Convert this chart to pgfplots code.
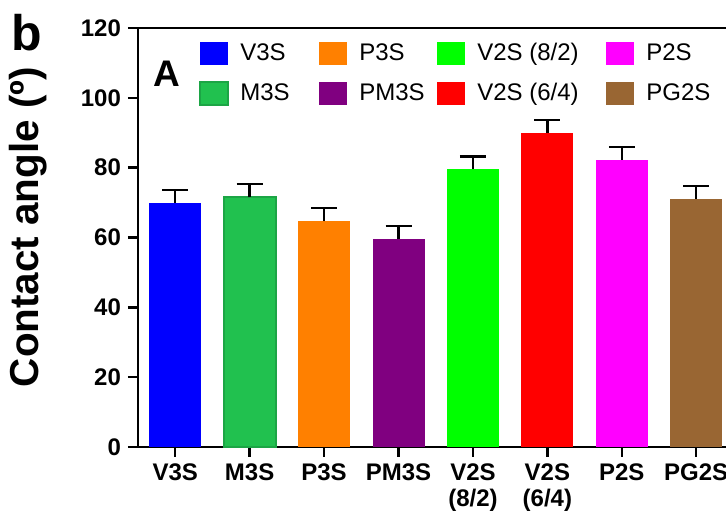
\documentclass[border=0pt]{standalone}
\usepackage{fontspec}
\setmainfont{Liberation Sans}
\usepackage{pgfplots}
\pgfplotsset{compat=1.18}
\definecolor{cV3S}{HTML}{0000FF}
\definecolor{cM3S}{HTML}{21C14F}
\definecolor{cM3Sd}{HTML}{1CA545}
\definecolor{cP3S}{HTML}{FF8000}
\definecolor{cPM3S}{HTML}{800080}
\definecolor{cV82}{HTML}{00FF00}
\definecolor{cV64}{HTML}{FF0000}
\definecolor{cP2S}{HTML}{FF00FF}
\definecolor{cPG2S}{HTML}{996633}
\begin{document}
\begin{tikzpicture}
\begin{axis}[
  scale only axis, width=294pt, height=209.5pt,
  xmin=-0.5, xmax=7.4, ymin=0, ymax=120,
  axis x line=box, axis y line=left,
  axis line style={-, line width=1.4pt, black},
  xtick={0,...,7},
  xticklabels={V3S, M3S, P3S, PM3S, {V2S\\(8/2)}, {V2S\\(6/4)}, P2S, PG2S},
  ytick={0,20,...,120},
  xtick pos=left, ytick pos=left,
  tick align=outside, major tick length=5pt,
  tick style={line width=1.2pt, black},
  /pgf/number format/assume math mode=true,
  xticklabel style={font=\bfseries\fontsize{12}{13}\selectfont, align=center},
  yticklabel style={font=\bfseries\fontsize{12}{13}\selectfont},
  ylabel={Contact angle (º)},
  ylabel style={font=\bfseries\fontsize{20.2}{22}\selectfont, at={(axis description cs:-0.187,0.525)}, anchor=center},
  ybar, bar width=26pt,
  every axis plot/.append style={bar shift=0pt,
    /pgfplots/error bars/y dir=plus, /pgfplots/error bars/y explicit,
    /pgfplots/error bars/error bar style={line width=1.2pt, black},
    /pgfplots/error bars/error mark options={rotate=90, mark size=6.5pt, line width=1.2pt, black}},
  legend columns=4,
  legend style={draw=none, fill=none, inner sep=0pt, at={(axis description cs:0.1037,0.968)}, anchor=north west,
    font=\fontsize{12}{13}\selectfont, nodes={inner sep=0pt, anchor=west}, row sep=8.2pt, column sep=0pt},
  legend image code/.code={\path[#1] (0pt,-5.75pt) rectangle (14pt,5.75pt); \path[draw=none,fill=none] (0pt,0pt) -- (20pt,0pt);},
  clip=false,
]
\addplot[fill=cV3S, draw=none] coordinates {(0,70.0) +- (0,3.6)};
\addlegendentry{\makebox[39.5pt][l]{V3S}}
\addplot[fill=cP3S, draw=none] coordinates {(2,64.6) +- (0,3.8)};
\addlegendentry{\makebox[39pt][l]{P3S}}
\addplot[fill=cV82, draw=none] coordinates {(4,79.6) +- (0,3.6)};
\addlegendentry{\makebox[64.5pt][l]{V2S (8/2)}}
\addplot[fill=cP2S, draw=none] coordinates {(6,82.3) +- (0,3.7)};
\addlegendentry{\makebox[38pt][l]{P2S}}
\addplot[fill=cM3S, draw=cM3Sd, line width=1pt] coordinates {(1,71.5) +- (0,3.9)};
\addlegendentry{\makebox[39.5pt][l]{M3S}}
\addplot[fill=cPM3S, draw=none] coordinates {(3,59.6) +- (0,3.7)};
\addlegendentry{\makebox[39pt][l]{PM3S}}
\addplot[fill=cV64, draw=none] coordinates {(5,90.0) +- (0,3.6)};
\addlegendentry{\makebox[64.5pt][l]{V2S (6/4)}}
\addplot[fill=cPG2S, draw=none] coordinates {(7,71.1) +- (0,3.7)};
\addlegendentry{\makebox[38pt][l]{PG2S}}
\node[font=\bfseries\fontsize{18.5}{20}\selectfont] at (axis description cs:0.049,0.891) {A};
\node[font=\bfseries\fontsize{25}{27}\selectfont] at (axis description cs:-0.189,0.99) {b};
\coordinate (ll) at (rel axis cs:0,0);
\coordinate (ur) at (rel axis cs:1,1);
\end{axis}
\pgfresetboundingbox
\path ([shift={(-69pt,-35pt)}]ll) rectangle ([shift={(0pt,14pt)}]ur);
\end{tikzpicture}
\end{document}
